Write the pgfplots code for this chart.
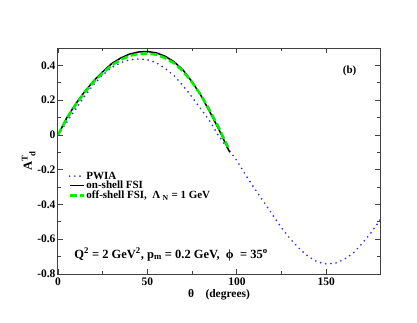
\documentclass[border=0pt]{standalone}
\usepackage{pgfplots}
\pgfplotsset{compat=1.18}
\usepackage{fontspec}
\setmainfont{Liberation Serif}

\definecolor{pwiablue}{RGB}{40,40,255}
\definecolor{offgreen}{RGB}{0,240,0}

\begin{document}
\begin{tikzpicture}
\begin{axis}[
  scale only axis,
  width=322pt, height=226pt,
  xmin=0, xmax=180, ymin=-0.8, ymax=0.5,
  xtick={0,50,100,150},
  ytick={-0.8,-0.6,-0.4,-0.2,0,0.2,0.4},
  minor x tick num=1,
  minor y tick num=1,
  tick align=inside,
  major tick length=5pt,
  minor tick length=3pt,
  axis line style={line width=1pt, black!75},
  every tick/.style={line width=0.8pt, black!75},
  /pgf/number format/assume math mode=true,
  tick label style={font=\fontsize{11.5}{13}\selectfont\bfseries},
  yticklabel style={xshift=1pt},
  xlabel={\bfseries θ\quad(degrees)},
  xlabel style={font=\fontsize{11.5}{13}\selectfont, yshift=3pt},
  ylabel={\bfseries A$^{\mathbf{T}}_{\;\;\mathbf{d}}$},
  ylabel style={font=\fontsize{12.5}{14}\selectfont, yshift=-5pt},
  legend cell align=left,
  legend style={at={(0.03,0.46)}, anchor=north west, draw=none, fill=none,
    font=\fontsize{11}{11}\selectfont\bfseries, row sep=-1.5pt,
    inner sep=0.5pt, nodes={inner sep=1pt}},
  legend image post style={scale=0.85},
]
\addplot[pwiablue, line width=1.9pt, line cap=round, dash pattern=on 0pt off 5.2pt] coordinates {
(0,0) (5,0.075) (10,0.15) (15,0.225) (20,0.29) (25,0.345) (30,0.388) (35,0.415)
(40,0.432) (45,0.437) (50,0.432) (55,0.415) (60,0.382) (65,0.34) (70,0.282)
(75,0.217) (80,0.147) (85,0.077) (90,-0.008) (95,-0.078) (100,-0.148)
(105,-0.232) (110,-0.31) (115,-0.385) (120,-0.46) (125,-0.535) (130,-0.6)
(135,-0.655) (140,-0.7) (145,-0.73) (150,-0.742) (155,-0.738) (160,-0.716)
(165,-0.68) (170,-0.625) (175,-0.562) (180,-0.49)};
\addlegendentry{PWIA}
\addplot[black, line width=1.5pt] coordinates {
(0,0) (5,0.1) (10,0.18) (15,0.25) (20,0.312) (25,0.363) (30,0.41) (35,0.442)
(40,0.465) (45,0.477) (50,0.48) (55,0.472) (60,0.452) (65,0.42) (70,0.372)
(75,0.305) (80,0.225) (85,0.13) (90,0.03) (96,-0.1)};
\addlegendentry{on-shell FSI}
\addplot[offgreen, line width=2.6pt, dash pattern=on 7pt off 3pt] coordinates {
(0,0) (5,0.095) (10,0.175) (15,0.245) (20,0.306) (25,0.356) (30,0.4) (35,0.432)
(40,0.455) (45,0.466) (50,0.468) (55,0.462) (60,0.442) (65,0.412) (70,0.366)
(75,0.303) (80,0.228) (85,0.138) (90,0.04) (95,-0.07)};
\addlegendentry{off-shell FSI,\ \ Λ$_{\;\mathbf{N}}$ = 1 GeV}
\node[anchor=center, font=\fontsize{11}{13}\selectfont\bfseries] at (axis cs:163,0.37) {(b)};
\node[anchor=base west, font=\fontsize{12.5}{14}\selectfont\bfseries, inner sep=0pt]
  at (axis cs:9,-0.708) {Q$^{\mathbf{2}}$ = 2 GeV$^{\mathbf{2}}$, p$_{\mathbf{m}}$ = 0.2 GeV,\ \ ϕ\ \ = 35$^{\mathbf{o}}$};
\end{axis}
\path (current axis.south west) ++(-58pt,-48pt) rectangle ++(417pt,322pt);
\end{tikzpicture}
\end{document}
